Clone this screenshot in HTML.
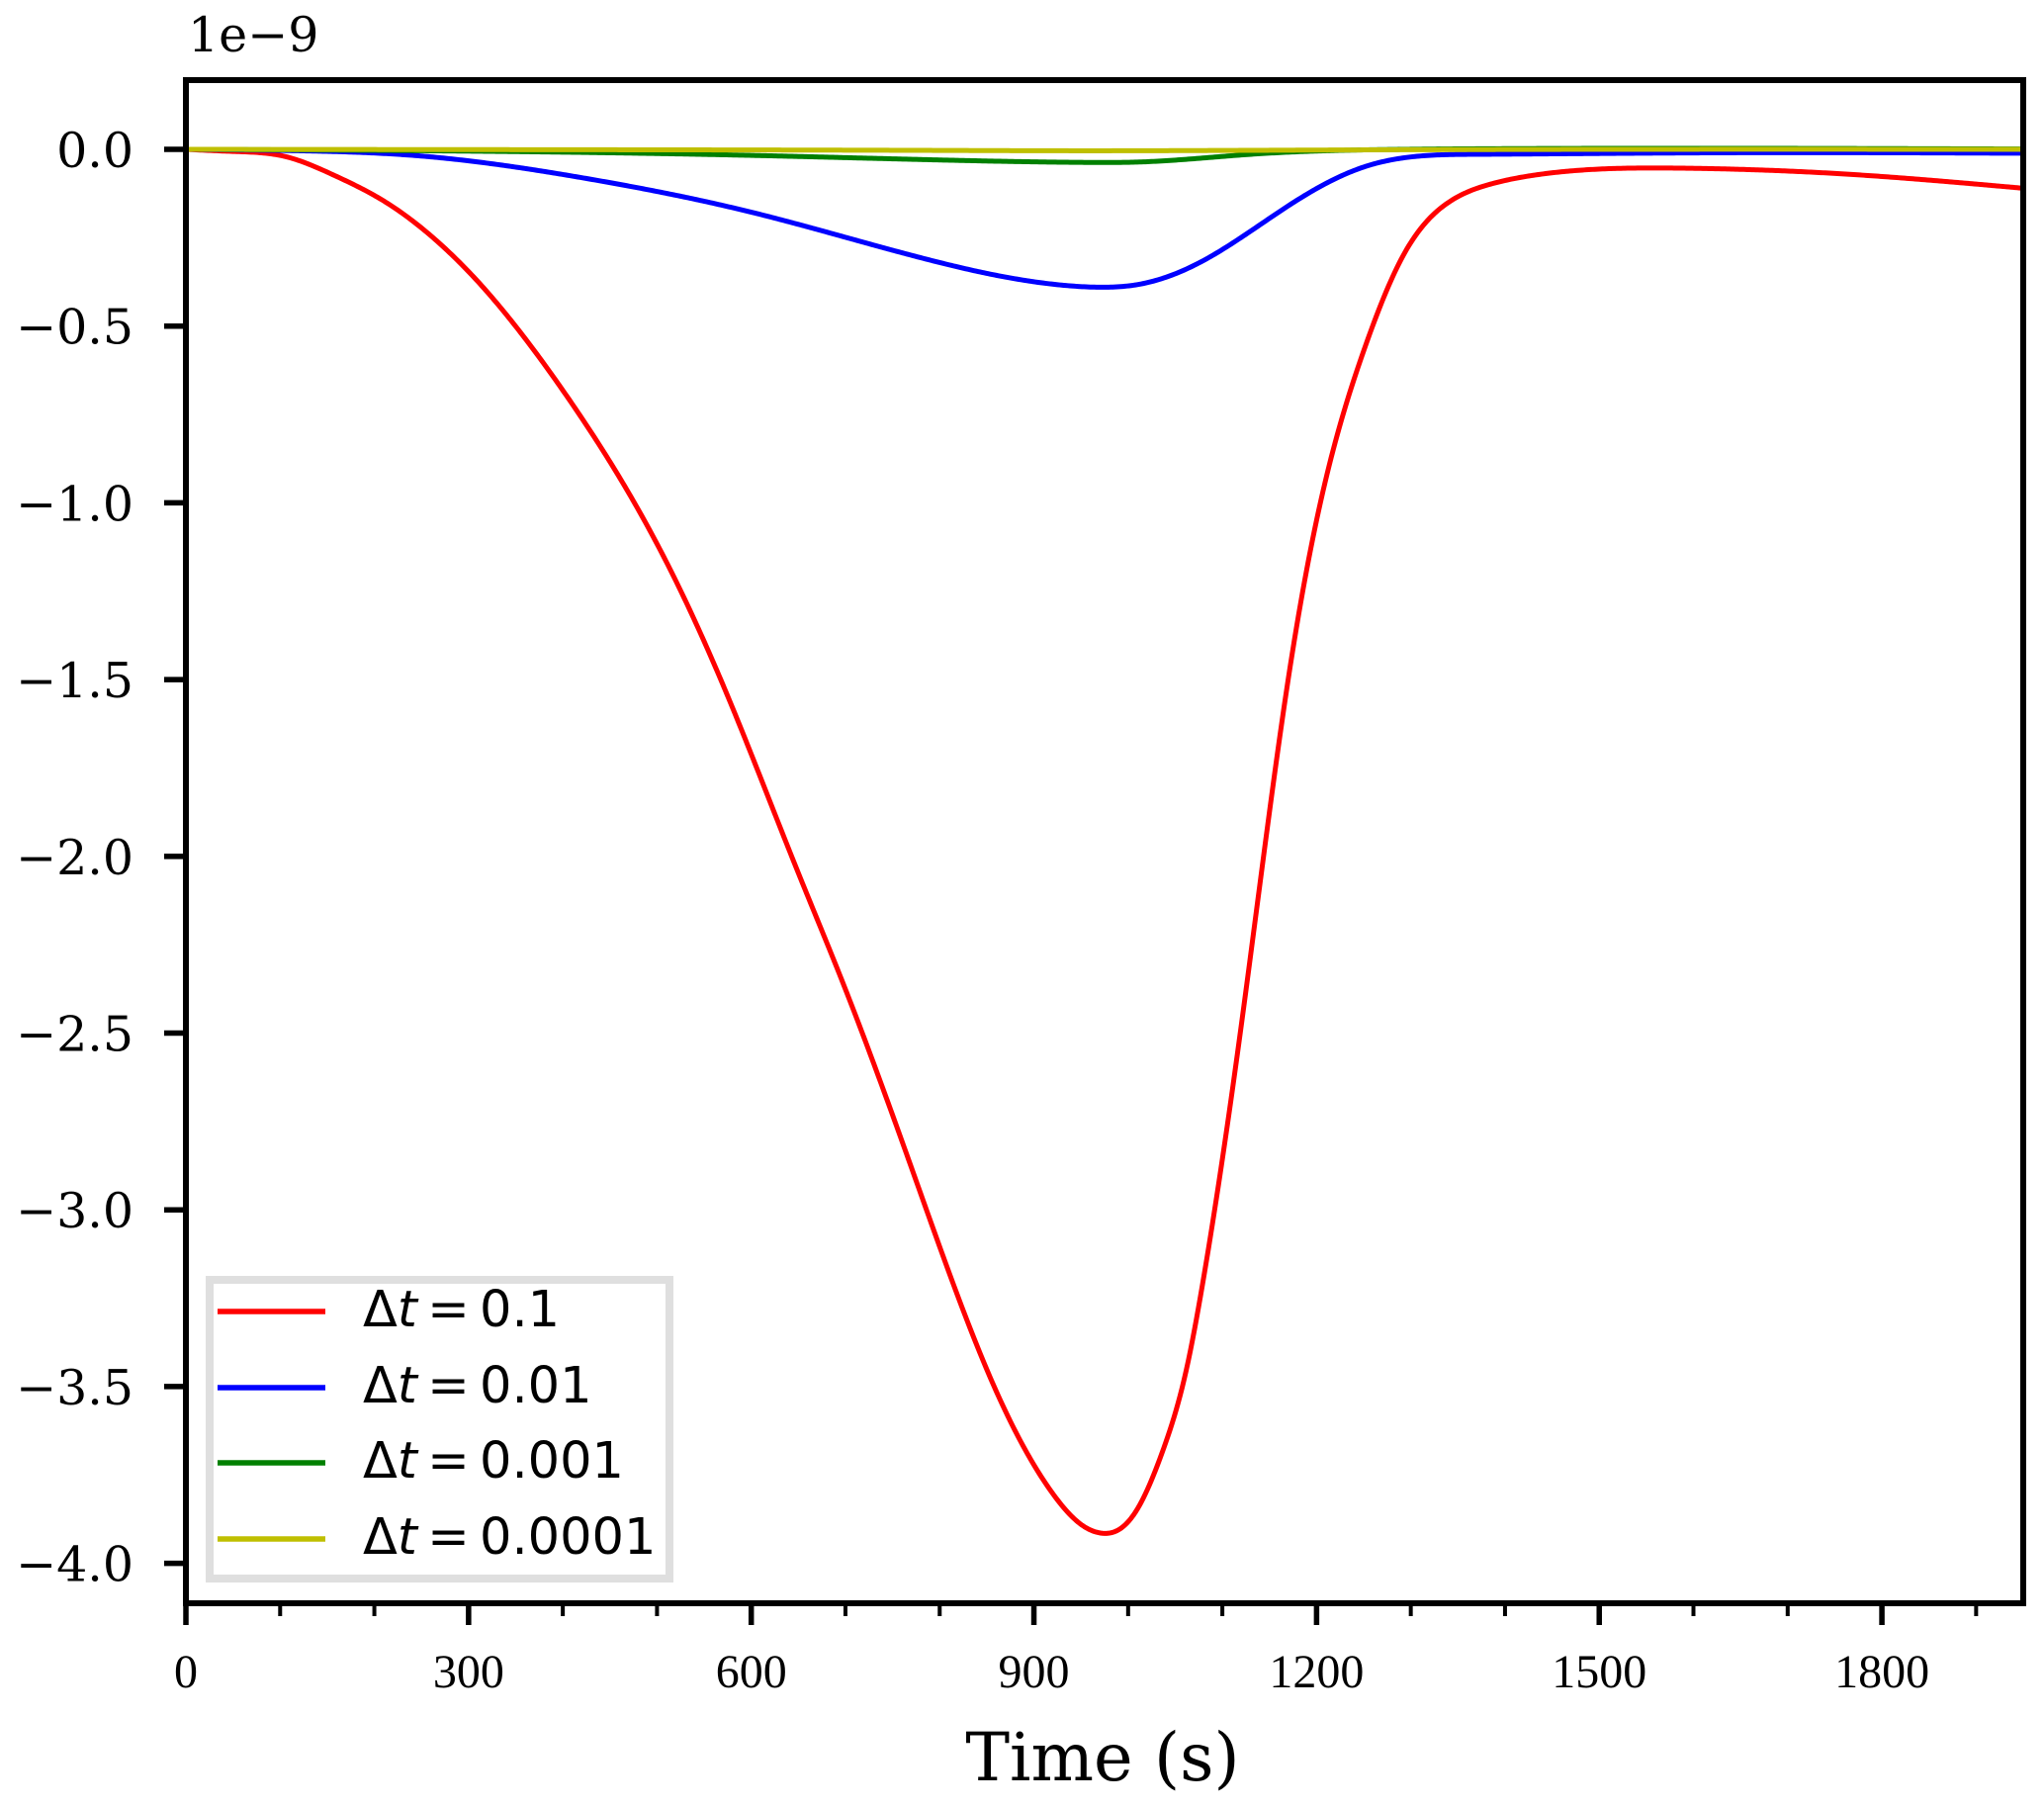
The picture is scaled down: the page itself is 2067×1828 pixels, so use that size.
<!DOCTYPE html>
<html><head><meta charset="utf-8"><style>
html,body{margin:0;padding:0;background:#fff;}
svg{display:block;}
</style></head><body>
<svg id="chart" width="2067" height="1828" viewBox="0 0 2067 1828" xmlns="http://www.w3.org/2000/svg"></svg>
<script>
const xTicks = [0, 300, 600, 900, 1200, 1500, 1800];
const yTicks = [0.0, -0.5, -1.0, -1.5, -2.0, -2.5, -3.0, -3.5, -4.0];
const yTickLabels = ["0.0", "\u22120.5", "\u22121.0", "\u22121.5", "\u22122.0", "\u22122.5", "\u22123.0", "\u22123.5", "\u22124.0"];
const seriesNames = ["\u0394t = 0.1", "\u0394t = 0.01", "\u0394t = 0.001", "\u0394t = 0.0001"];
const redT = [0, 52, 105, 157, 210, 262, 315, 404, 512, 576, 648, 697, 769, 857, 922, 950, 970, 990, 1009, 1037, 1062, 1079, 1120, 1171, 1207, 1250, 1292, 1340, 1385, 1431, 1581, 1762, 1950];
const redV = [0, -0.006, -0.02, -0.073, -0.146, -0.249, -0.389, -0.697, -1.178, -1.553, -2.034, -2.356, -2.873, -3.495, -3.81, -3.89, -3.914, -3.905, -3.85, -3.68, -3.45, -3.21, -2.48, -1.48, -0.965, -0.57, -0.3, -0.15, -0.098, -0.073, -0.053, -0.07, -0.11];
const blueT = [0, 120, 241, 422, 602, 782, 938, 972, 1009, 1081, 1178, 1250, 1369, 1600, 1950];
const blueV = [0, -0.004, -0.017, -0.081, -0.179, -0.308, -0.386, -0.39, -0.383, -0.313, -0.146, -0.05, -0.014, -0.01, -0.011];
const greenT = [0, 300, 600, 800, 960, 1009, 1130, 1290, 1400, 1950];
const greenV = [0, -0.005, -0.017, -0.03, -0.037, -0.036, -0.014, 0.0, 0.002, 0.001];
const yellowT = [0, 400, 800, 950, 1200, 1500, 1950];
const yellowV = [0, -0.001, -0.003, -0.004, -0.002, 0.0, 0.0];

const svg = document.getElementById('chart');
const NS = 'http://www.w3.org/2000/svg';
const L = 188, R = 2046, T = 81, B = 1621;
const X0 = 0, X1 = 1950, Y0 = 0.1959, Y1 = -4.113;
function sx(t){ return L + (t - X0) / (X1 - X0) * (R - L); }
function sy(v){ return T + (Y0 - v) / (Y0 - Y1) * (B - T); }
function mk(tag, attrs){ const e = document.createElementNS(NS, tag); for (const k in attrs) e.setAttribute(k, attrs[k]); return e; }

function spline(xs, ys){
  const n = xs.length, h = [], al = new Array(n).fill(0);
  for (let i = 0; i < n - 1; i++) h.push(xs[i+1] - xs[i]);
  for (let i = 1; i < n - 1; i++) al[i] = 3 / h[i] * (ys[i+1] - ys[i]) - 3 / h[i-1] * (ys[i] - ys[i-1]);
  const l = new Array(n).fill(1), mu = new Array(n).fill(0), z = new Array(n).fill(0);
  for (let i = 1; i < n - 1; i++) {
    l[i] = 2 * (xs[i+1] - xs[i-1]) - h[i-1] * mu[i-1];
    mu[i] = h[i] / l[i];
    z[i] = (al[i] - h[i-1] * z[i-1]) / l[i];
  }
  const c = new Array(n).fill(0), b = new Array(n).fill(0), d = new Array(n).fill(0);
  for (let j = n - 2; j >= 0; j--) {
    c[j] = z[j] - mu[j] * c[j+1];
    b[j] = (ys[j+1] - ys[j]) / h[j] - h[j] * (c[j+1] + 2 * c[j]) / 3;
    d[j] = (c[j+1] - c[j]) / (3 * h[j]);
  }
  return function(x){
    let i = 0;
    while (i < n - 2 && x > xs[i+1]) i++;
    const dx = x - xs[i];
    return ys[i] + b[i]*dx + c[i]*dx*dx + d[i]*dx*dx*dx;
  };
}

const cols = ['#ff0000', '#0000ff', '#008000', '#bfbf00'];
const data = [[redT, redV], [blueT, blueV], [greenT, greenV], [yellowT, yellowV]];
const sNames = ['series-dt-0.1', 'series-dt-0.01', 'series-dt-0.001', 'series-dt-0.0001'];
const clip = mk('clipPath', {id: 'pc'});
clip.appendChild(mk('rect', {x: L, y: T, width: R - L, height: B - T}));
svg.appendChild(clip);
data.forEach((d, i) => {
  const f = spline(d[0], d[1]);
  const t0 = d[0][0], t1 = d[0][d[0].length - 1];
  let p = '';
  const N = 900;
  for (let k = 0; k <= N; k++) {
    const t = t0 + (t1 - t0) * k / N;
    p += (k ? ' L' : 'M') + sx(t).toFixed(2) + ',' + sy(f(t)).toFixed(2);
  }
  const path = mk('path', {d: p, fill: 'none', stroke: cols[i], 'stroke-width': 5, 'clip-path': 'url(#pc)', 'stroke-linejoin': 'round'});
  
  
  svg.appendChild(path);
});

const frame = mk('rect', {x: L, y: T, width: R - L, height: B - T, fill: 'none', stroke: '#000', 'stroke-width': 6});


svg.appendChild(frame);

for (let t = 0; t <= 1950; t += 100) {
  const major = t % 300 === 0;
  const tk = mk('line', {x1: sx(t), x2: sx(t), y1: B, y2: B + (major ? 22 : 13), stroke: '#000', 'stroke-width': major ? 5.5 : 4});
  
  
  svg.appendChild(tk);
}
xTicks.forEach(t => {
  const tx = mk('text', {x: sx(t), y: 1706, 'text-anchor': 'middle', 'font-family': 'Liberation Serif, serif', 'font-size': 48});
  tx.textContent = String(t);
  
  
  svg.appendChild(tx);
});
yTicks.forEach((v, i) => {
  const tk = mk('line', {x1: L - 22, x2: L, y1: sy(v), y2: sy(v), stroke: '#000', 'stroke-width': 5.5});
  
  
  svg.appendChild(tk);
  const tx = mk('text', {x: 135, y: sy(v) + 18, 'text-anchor': 'end', 'font-family': 'DejaVu Serif, serif', 'font-size': 49});
  tx.textContent = yTickLabels[i];
  
  
  svg.appendChild(tx);
});
const off = mk('text', {x: 190, y: 52, 'font-family': 'DejaVu Serif, serif', 'font-size': 49});
off.textContent = '1e\u22129';


svg.appendChild(off);
const xt = mk('text', {x: 1115, y: 1800, 'text-anchor': 'middle', 'font-family': 'DejaVu Serif, serif', 'font-size': 67});
xt.textContent = 'Time (s)';


svg.appendChild(xt);

const lg = mk('g', {});


svg.appendChild(lg);
lg.appendChild(mk('rect', {x: 212, y: 1294, width: 465, height: 302, fill: '#fff', stroke: '#dfdfdf', 'stroke-width': 8}));
const legY = [1326, 1403, 1479, 1556];
seriesNames.forEach((n, i) => {
  const ent = mk('g', {});
  
  
  ent.appendChild(mk('line', {x1: 220, x2: 329, y1: legY[i], y2: legY[i], stroke: cols[i], 'stroke-width': 5.5}));
  const tx = mk('text', {x: 367, y: legY[i] + 15, 'font-family': 'DejaVu Sans, sans-serif', 'font-size': 51});
  const parts = n.split(' = ');
  const a = mk('tspan', {}); a.textContent = '\u0394';
  const b = mk('tspan', {'font-style': 'italic'}); b.textContent = 't';
  const c = mk('tspan', {}); c.textContent = '\u2009=\u2009' + parts[1];
  tx.appendChild(a); tx.appendChild(b); tx.appendChild(c);
  ent.appendChild(tx);
  lg.appendChild(ent);
});
</script>
</body></html>
